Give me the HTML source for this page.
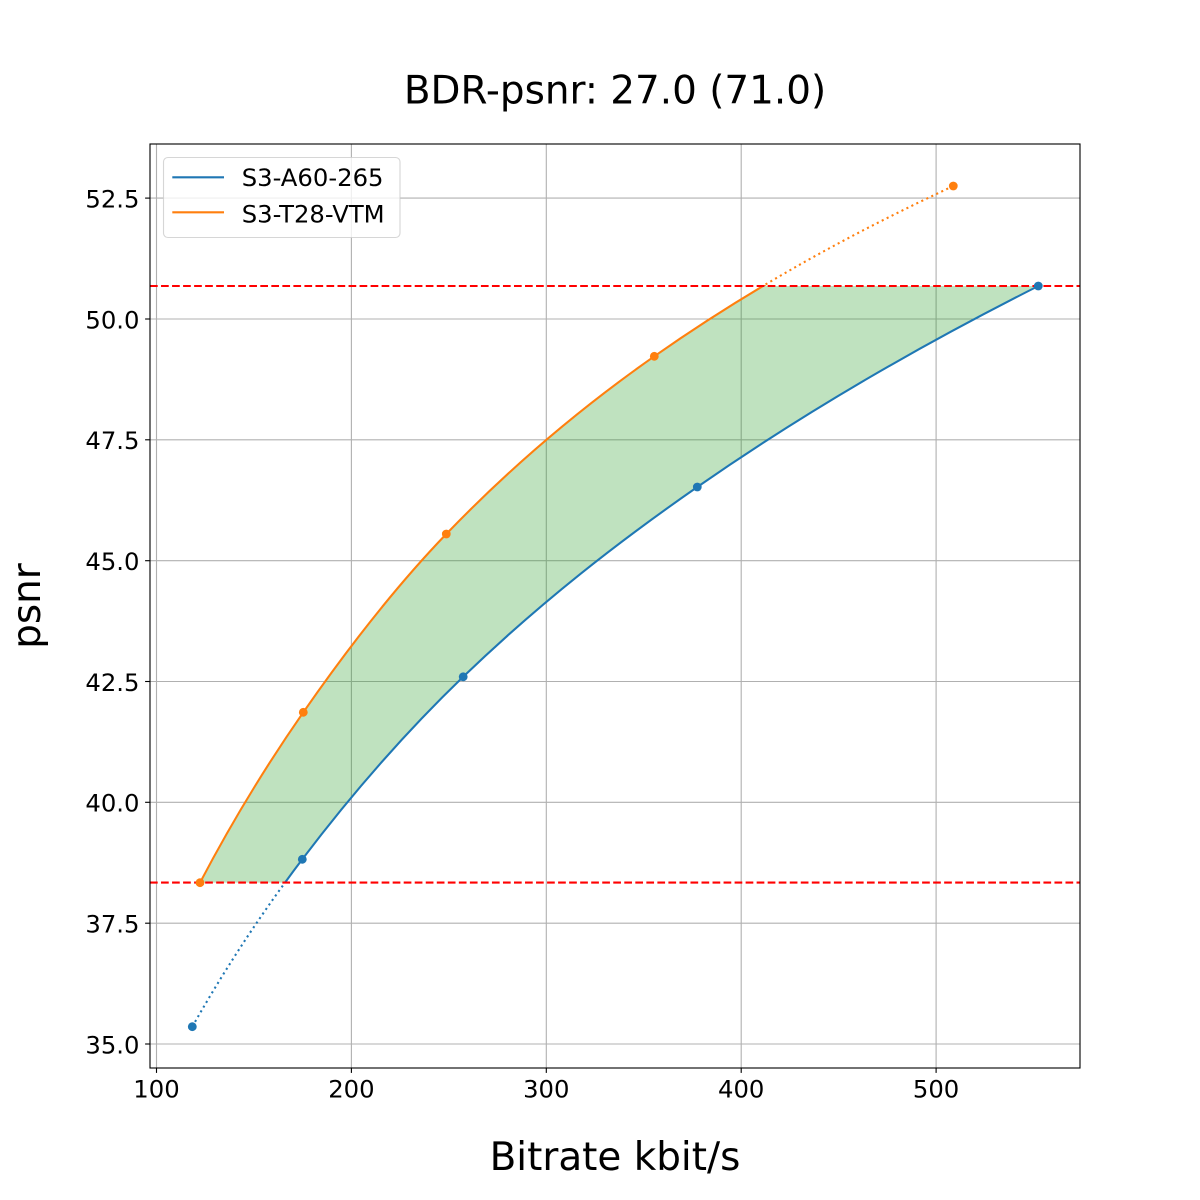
<!DOCTYPE html>
<html>
<head>
<meta charset="utf-8">
<style>
  html, body { margin: 0; padding: 0; background: #ffffff; }
  svg { display: block; }
  text { font-family: "DejaVu Sans", "Liberation Sans", sans-serif; fill: #000000; }
</style>
</head>
<body>
<svg width="1200" height="1200" viewBox="0 0 1200 1200" xmlns="http://www.w3.org/2000/svg">
  <defs>
    <clipPath id="band"><rect x="150" y="286" width="930" height="596.6"/></clipPath>
    <clipPath id="bandline"><rect x="150" y="285" width="930" height="598.5"/></clipPath>
    <clipPath id="below"><rect x="150" y="883.5" width="930" height="184.5"/></clipPath>
    <clipPath id="above"><rect x="150" y="144" width="930" height="141"/></clipPath>
  </defs>

  <rect x="0" y="0" width="1200" height="1200" fill="#ffffff"/>

  <!-- grid -->
  <g stroke="#b0b0b0" stroke-width="1.11" fill="none">
    <line x1="156.5" y1="144" x2="156.5" y2="1068"/>
    <line x1="351.4" y1="144" x2="351.4" y2="1068"/>
    <line x1="546.3" y1="144" x2="546.3" y2="1068"/>
    <line x1="741.2" y1="144" x2="741.2" y2="1068"/>
    <line x1="936.1" y1="144" x2="936.1" y2="1068"/>
    <line x1="150" y1="1044" x2="1080" y2="1044"/>
    <line x1="150" y1="923.2" x2="1080" y2="923.2"/>
    <line x1="150" y1="802.3" x2="1080" y2="802.3"/>
    <line x1="150" y1="681.5" x2="1080" y2="681.5"/>
    <line x1="150" y1="560.7" x2="1080" y2="560.7"/>
    <line x1="150" y1="439.8" x2="1080" y2="439.8"/>
    <line x1="150" y1="319.0" x2="1080" y2="319.0"/>
    <line x1="150" y1="198.1" x2="1080" y2="198.1"/>
  </g>

  <!-- green fill -->
  <path clip-path="url(#band)" fill="#2ca02c" fill-opacity="0.3" stroke="none"
    d="M200,882.7 C234.43,816.97 268.87,761.85 303.3,712.3 C350.97,643.71 398.63,583.55 446.3,534 C515.63,461.93 584.97,404.96 654.3,356.3 C753.97,286.35 853.63,232.53 953.3,186 L1038.3,286 C924.63,343.45 810.97,407.93 697.3,487 C619.27,541.28 541.23,601.58 463.2,676.8 C409.57,728.5 355.93,788.41 302.3,859.3 C265.63,907.76 228.97,961.83 192.3,1026.7 Z"/>

  <!-- blue curve -->
  <g fill="none" stroke="#1f77b4" stroke-width="2.08">
    <path clip-path="url(#bandline)"
      d="M192.3,1026.7 C228.97,961.83 265.63,907.76 302.3,859.3 C355.93,788.41 409.57,728.5 463.2,676.8 C541.23,601.58 619.27,541.28 697.3,487 C810.97,407.93 924.63,343.45 1038.3,286"/>
    <path clip-path="url(#below)" stroke-dasharray="2.08 3.44"
      d="M192.3,1026.7 C228.97,961.83 265.63,907.76 302.3,859.3"/>
  </g>

  <!-- orange curve -->
  <g fill="none" stroke="#ff7f0e" stroke-width="2.08">
    <path clip-path="url(#bandline)"
      d="M200,882.7 C234.43,816.97 268.87,761.85 303.3,712.3 C350.97,643.71 398.63,583.55 446.3,534 C515.63,461.93 584.97,404.96 654.3,356.3 C753.97,286.35 853.63,232.53 953.3,186"/>
    <path clip-path="url(#above)" stroke-dasharray="2.08 3.44"
      d="M654.3,356.3 C753.97,286.35 853.63,232.53 953.3,186"/>
  </g>

  <!-- red dashed lines -->
  <g stroke="#ff0000" stroke-width="2.08" stroke-dasharray="7.7 3.33" fill="none">
    <line x1="150" y1="286" x2="1080" y2="286"/>
    <line x1="150" y1="882.6" x2="1080" y2="882.6"/>
  </g>

  <!-- markers -->
  <g fill="#1f77b4">
    <circle cx="192.3" cy="1026.7" r="4.4"/>
    <circle cx="302.3" cy="859.3" r="4.4"/>
    <circle cx="463.2" cy="676.8" r="4.4"/>
    <circle cx="697.3" cy="487" r="4.4"/>
    <circle cx="1038.3" cy="286" r="4.4"/>
  </g>
  <g fill="#ff7f0e">
    <circle cx="200" cy="882.7" r="4.4"/>
    <circle cx="303.3" cy="712.3" r="4.4"/>
    <circle cx="446.3" cy="534" r="4.4"/>
    <circle cx="654.3" cy="356.3" r="4.4"/>
    <circle cx="953.3" cy="186" r="4.4"/>
  </g>

  <!-- spines -->
  <rect x="150" y="144" width="930" height="924" fill="none" stroke="#000000" stroke-width="1.11"/>

  <!-- ticks -->
  <g stroke="#000000" stroke-width="1.11">
    <line x1="156.5" y1="1068" x2="156.5" y2="1072.9"/>
    <line x1="351.4" y1="1068" x2="351.4" y2="1072.9"/>
    <line x1="546.3" y1="1068" x2="546.3" y2="1072.9"/>
    <line x1="741.2" y1="1068" x2="741.2" y2="1072.9"/>
    <line x1="936.1" y1="1068" x2="936.1" y2="1072.9"/>
    <line x1="145.1" y1="1044" x2="150" y2="1044"/>
    <line x1="145.1" y1="923.2" x2="150" y2="923.2"/>
    <line x1="145.1" y1="802.3" x2="150" y2="802.3"/>
    <line x1="145.1" y1="681.5" x2="150" y2="681.5"/>
    <line x1="145.1" y1="560.7" x2="150" y2="560.7"/>
    <line x1="145.1" y1="439.8" x2="150" y2="439.8"/>
    <line x1="145.1" y1="319.0" x2="150" y2="319.0"/>
    <line x1="145.1" y1="198.1" x2="150" y2="198.1"/>
  </g>

  <!-- x tick labels -->
  <g font-size="24.3" text-anchor="middle">
    <text x="156.5" y="1097.5">100</text>
    <text x="351.4" y="1097.5">200</text>
    <text x="546.3" y="1097.5">300</text>
    <text x="741.2" y="1097.5">400</text>
    <text x="936.1" y="1097.5">500</text>
  </g>

  <!-- y tick labels -->
  <g font-size="24.3" text-anchor="end">
    <text x="139.5" y="1053.3">35.0</text>
    <text x="139.5" y="932.5">37.5</text>
    <text x="139.5" y="811.6">40.0</text>
    <text x="139.5" y="690.8">42.5</text>
    <text x="139.5" y="570.0">45.0</text>
    <text x="139.5" y="449.1">47.5</text>
    <text x="139.5" y="328.3">50.0</text>
    <text x="139.5" y="207.4">52.5</text>
  </g>

  <!-- title and axis labels -->
  <text x="615" y="103.3" font-size="38.9" text-anchor="middle">BDR-psnr: 27.0 (71.0)</text>
  <text x="615" y="1170" font-size="38.9" text-anchor="middle">Bitrate kbit/s</text>
  <text transform="translate(40,606) rotate(-90)" x="0" y="0" font-size="38.9" text-anchor="middle">psnr</text>

  <!-- legend -->
  <rect x="163.5" y="157.5" width="236.5" height="80" rx="4.4" ry="4.4" fill="#ffffff" fill-opacity="0.8" stroke="#cccccc" stroke-opacity="0.8" stroke-width="1.11"/>
  <line x1="172.3" y1="177.3" x2="224" y2="177.3" stroke="#1f77b4" stroke-width="2.08"/>
  <line x1="172.3" y1="212.3" x2="224" y2="212.3" stroke="#ff7f0e" stroke-width="2.08"/>
  <g font-size="24.3">
    <text x="241.7" y="186">S3-A60-265</text>
    <text x="241.7" y="222.7">S3-T28-VTM</text>
  </g>
</svg>
</body>
</html>
